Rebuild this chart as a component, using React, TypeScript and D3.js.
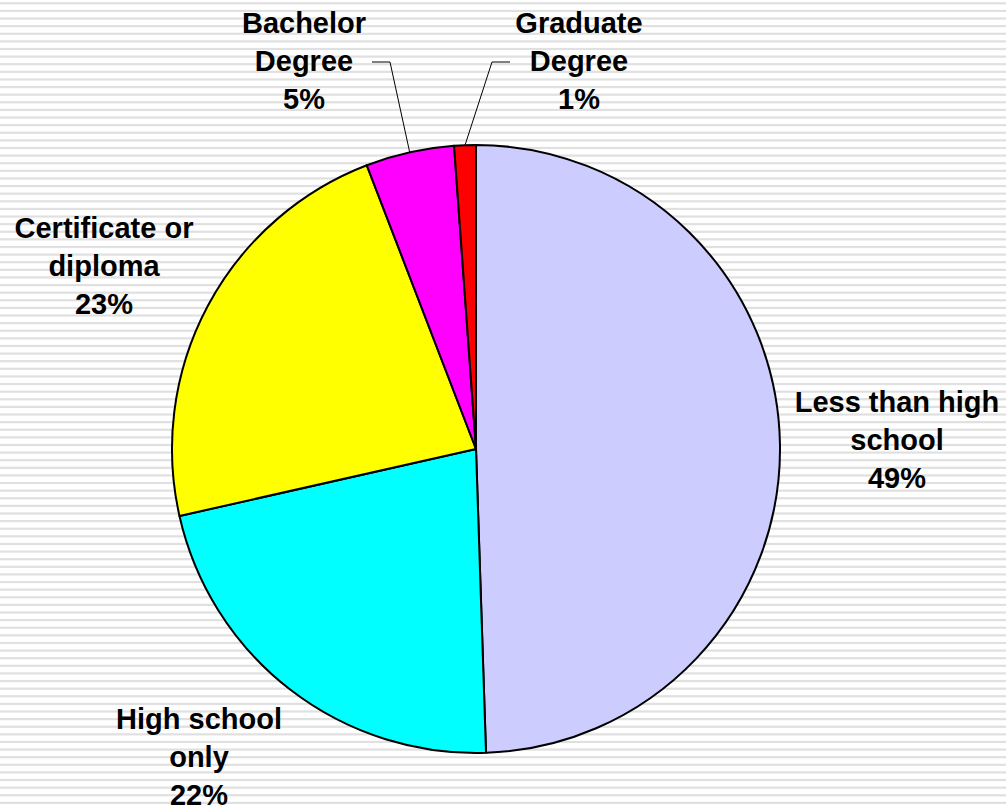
import * as d3 from 'd3';
import React, { useEffect, useRef } from 'react';

// Education attainment shares (percent of total)
const categories = [
  'Less than high school',
  'High school only',
  'Certificate or diploma',
  'Bachelor Degree',
  'Graduate Degree',
];
const values = [49.5, 22.0, 22.7, 4.7, 1.15];
const percentLabels = ['49%', '22%', '23%', '5%', '1%'];
const labelLines = [
  ['Less than high', 'school'],
  ['High school', 'only'],
  ['Certificate or', 'diploma'],
  ['Bachelor', 'Degree'],
  ['Graduate', 'Degree'],
];
const colors = ['#CCCCFF', '#00FFFF', '#FFFF00', '#FF00FF', '#FF0000'];

// label anchor: centre x and baseline of first line
const labelLayout = [
  { x: 897, y: 412, leader: false },
  { x: 199, y: 729, leader: false },
  { x: 104, y: 238, leader: false },
  { x: 304, y: 33, leader: true, side: 'right' },
  { x: 579, y: 33, leader: true, side: 'left' },
];

const WIDTH = 1006;
const HEIGHT = 808;

export default function App() {
  const svgRef = useRef<SVGSVGElement>(null);

  useEffect(() => {
    if (!svgRef.current) return;
    const svg = d3.select(svgRef.current);
    svg.selectAll('*').remove();

    // striped background
    svg.append('rect').attr('width', WIDTH).attr('height', HEIGHT).attr('fill', '#ffffff');
    const stripes = d3.range(0, 106).map(i => 2.2 + i * 7.615);
    svg.append('g')
      .selectAll('rect')
      .data(stripes)
      .join('rect')
      .attr('x', 0)
      .attr('y', d => d)
      .attr('width', WIDTH)
      .attr('height', 2.2)
      .attr('fill', '#e0e0e0');

    const cx = 476;
    const cy = 449;
    const r = 304;

    const pie = d3.pie<number>().sort(null).value(d => d).startAngle(0).endAngle(2 * Math.PI);
    const arcs = pie(values);
    const arc = d3.arc<d3.PieArcDatum<number>>().innerRadius(0).outerRadius(r);

    const g = svg.append('g').attr('transform', `translate(${cx},${cy})`);
    g.selectAll('path')
      .data(arcs)
      .join('path')
      .attr('d', arc)
      .attr('fill', (_, i) => colors[i])
      .attr('stroke', '#000')
      .attr('stroke-width', 2)
      .attr('stroke-linejoin', 'round');

    // labels
    const lineH = 38;
    const labels = svg.append('g')
      .attr('font-family', '"Liberation Sans", Arial, sans-serif')
      .attr('font-weight', 'bold')
      .attr('font-size', 29)
      .attr('fill', '#000')
      .attr('text-anchor', 'middle');

    categories.forEach((cat, i) => {
      const pos = labelLayout[i];
      const lines = [...labelLines[i], percentLabels[i]];
      const t = labels.append('text').attr('aria-label', cat);
      lines.forEach((ln, j) => {
        t.append('tspan').attr('x', pos.x).attr('y', pos.y + j * lineH).text(ln);
      });

      if (pos.leader) {
        const a = arcs[i];
        const mid = (a.startAngle + a.endAngle) / 2;
        const ex = cx + r * Math.sin(mid);
        const ey = cy - r * Math.cos(mid);
        const ly = pos.y + lineH - 9;
        const x0 = pos.side === 'right' ? pos.x + 68 : pos.x - 69;
        const x1 = pos.side === 'right' ? x0 + 18 : x0 - 18;
        svg.append('path')
          .attr('d', d3.line()([[x0, ly], [x1, ly], [ex, ey]]))
          .attr('fill', 'none')
          .attr('stroke', '#000')
          .attr('stroke-width', 1);
      }
    });
  }, []);

  return (
    <svg
      ref={svgRef}
      width={WIDTH}
      height={HEIGHT}
      style={{ position: 'absolute', left: 0, top: 0, display: 'block' }}
    />
  );
}
